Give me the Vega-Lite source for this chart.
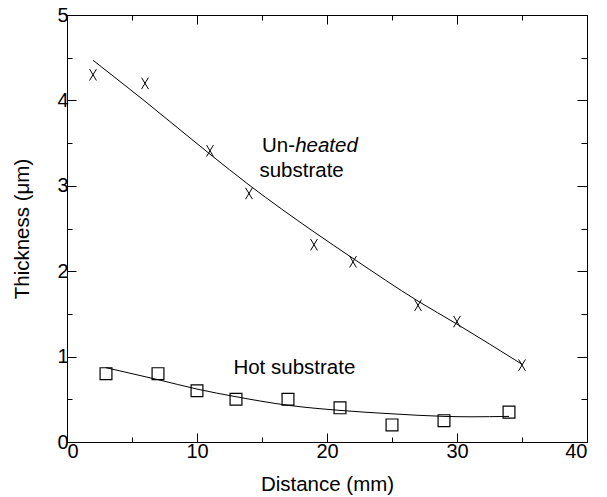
{
  "$schema": "https://vega.github.io/schema/vega-lite/v6.json",
  "width": 520,
  "height": 427,
  "autosize": "none",
  "padding": {"left": 67, "top": 15, "right": 20, "bottom": 55},
  "background": "white",
  "config": {
    "font": "Liberation Sans",
    "view": {"stroke": "black", "strokeWidth": 1},
    "axis": {
      "grid": false,
      "domainColor": "black",
      "tickColor": "black",
      "labelColor": "black",
      "titleColor": "black",
      "labelFontSize": 20,
      "titleFontSize": 20.5,
      "titleFontWeight": "normal",
      "labelPadding": 8
    }
  },
  "datasets": {
    "pts": [
      {"series": "Un-heated", "distance": 2, "thickness": 4.3},
      {"series": "Un-heated", "distance": 6, "thickness": 4.2},
      {"series": "Un-heated", "distance": 11, "thickness": 3.41},
      {"series": "Un-heated", "distance": 14, "thickness": 2.91},
      {"series": "Un-heated", "distance": 19, "thickness": 2.31},
      {"series": "Un-heated", "distance": 22, "thickness": 2.11},
      {"series": "Un-heated", "distance": 27, "thickness": 1.6},
      {"series": "Un-heated", "distance": 30, "thickness": 1.41},
      {"series": "Un-heated", "distance": 35, "thickness": 0.9},
      {"series": "Hot", "distance": 3, "thickness": 0.8},
      {"series": "Hot", "distance": 7, "thickness": 0.8},
      {"series": "Hot", "distance": 10, "thickness": 0.6},
      {"series": "Hot", "distance": 13, "thickness": 0.5},
      {"series": "Hot", "distance": 17, "thickness": 0.5},
      {"series": "Hot", "distance": 21, "thickness": 0.4},
      {"series": "Hot", "distance": 25, "thickness": 0.2},
      {"series": "Hot", "distance": 29, "thickness": 0.25},
      {"series": "Hot", "distance": 34, "thickness": 0.35}
    ],
    "fit": [
      {"series": "Un-heated", "distance": 2, "thickness": 4.47},
      {"series": "Un-heated", "distance": 6, "thickness": 3.99},
      {"series": "Un-heated", "distance": 11, "thickness": 3.37},
      {"series": "Un-heated", "distance": 14, "thickness": 3.01},
      {"series": "Un-heated", "distance": 19, "thickness": 2.46},
      {"series": "Un-heated", "distance": 22, "thickness": 2.15},
      {"series": "Un-heated", "distance": 27, "thickness": 1.65},
      {"series": "Un-heated", "distance": 30, "thickness": 1.38},
      {"series": "Un-heated", "distance": 35, "thickness": 0.91},
      {"series": "Hot", "distance": 3, "thickness": 0.87},
      {"series": "Hot", "distance": 7, "thickness": 0.73},
      {"series": "Hot", "distance": 10, "thickness": 0.62},
      {"series": "Hot", "distance": 13, "thickness": 0.53},
      {"series": "Hot", "distance": 17, "thickness": 0.43},
      {"series": "Hot", "distance": 21, "thickness": 0.37},
      {"series": "Hot", "distance": 25, "thickness": 0.33},
      {"series": "Hot", "distance": 29, "thickness": 0.3},
      {"series": "Hot", "distance": 31, "thickness": 0.295},
      {"series": "Hot", "distance": 34, "thickness": 0.3}
    ],
    "labels": [
      {"text": "Un-", "style": "normal", "distance": 15.0, "thickness": 3.47},
      {"text": "heated", "style": "italic", "distance": 17.55, "thickness": 3.47},
      {"text": "substrate", "style": "normal", "distance": 14.8, "thickness": 3.17},
      {"text": "Hot substrate", "style": "normal", "distance": 12.8, "thickness": 0.87}
    ]
  },
  "layer": [
    {
      "data": {"name": "fit"},
      "mark": {"type": "line", "color": "black", "strokeWidth": 1, "interpolate": "monotone"},
      "encoding": {
        "x": {"field": "distance", "type": "quantitative", "scale": {"domain": [0, 40], "nice": false},
          "axis": {"orient": "bottom", "title": "Distance (mm)", "values": [0, 5, 10, 15, 20, 25, 30, 35, 40],
            "labelExpr": "datum.value % 10 === 0 ? format(datum.value, 'd') : ''",
            "tickSize": {"condition": {"test": "datum.value % 10 !== 0", "value": -5}, "value": -9},
            "titlePadding": 13}},
        "y": {"field": "thickness", "type": "quantitative", "scale": {"domain": [0, 5], "nice": false},
          "axis": {"orient": "left", "title": "Thickness (μm)", "values": [0, 0.5, 1, 1.5, 2, 2.5, 3, 3.5, 4, 4.5, 5],
            "labelExpr": "datum.value % 1 === 0 ? format(datum.value, 'd') : ''",
            "tickSize": {"condition": {"test": "datum.value % 1 !== 0", "value": -5}, "value": -9},
            "titlePadding": 24}},
        "detail": {"field": "series"}
      }
    },
    {
      "data": {"name": "pts"},
      "transform": [{"filter": "datum.series === 'Un-heated'"}],
      "mark": {"type": "point", "shape": "M-0.6,-1L0.6,1M0.6,-1L-0.6,1", "filled": false, "stroke": "black", "strokeWidth": 1, "size": 130, "opacity": 1},
      "encoding": {
        "x": {"field": "distance", "type": "quantitative", "axis": null},
        "y": {"field": "thickness", "type": "quantitative", "axis": null}
      }
    },
    {
      "data": {"name": "pts"},
      "transform": [{"filter": "datum.series === 'Hot'"}],
      "mark": {"type": "point", "shape": "square", "filled": false, "stroke": "black", "strokeWidth": 1.2, "size": 140, "opacity": 1},
      "encoding": {
        "x": {"field": "distance", "type": "quantitative", "axis": null},
        "y": {"field": "thickness", "type": "quantitative", "axis": null}
      }
    },
    {
      "data": {"name": "labels"},
      "transform": [{"filter": "datum.style === 'normal'"}],
      "mark": {"type": "text", "align": "left", "baseline": "middle", "fontSize": 20.5, "color": "black"},
      "encoding": {
        "x": {"field": "distance", "type": "quantitative", "axis": null},
        "y": {"field": "thickness", "type": "quantitative", "axis": null},
        "text": {"field": "text"}
      }
    },
    {
      "data": {"name": "labels"},
      "transform": [{"filter": "datum.style === 'italic'"}],
      "mark": {"type": "text", "align": "left", "baseline": "middle", "fontSize": 20.5, "fontStyle": "italic", "color": "black"},
      "encoding": {
        "x": {"field": "distance", "type": "quantitative", "axis": null},
        "y": {"field": "thickness", "type": "quantitative", "axis": null},
        "text": {"field": "text"}
      }
    },
    {
      "data": {"name": "pts"},
      "mark": {"type": "point", "opacity": 0},
      "encoding": {
        "x": {"field": "distance", "type": "quantitative",
          "axis": {"orient": "top", "title": null, "labels": false, "values": [5, 10, 15, 20, 25, 30, 35],
            "tickSize": {"condition": {"test": "datum.value % 10 !== 0", "value": -5}, "value": -9}}},
        "y": {"field": "thickness", "type": "quantitative",
          "axis": {"orient": "right", "title": null, "labels": false, "values": [0.5, 1, 1.5, 2, 2.5, 3, 3.5, 4, 4.5],
            "tickSize": {"condition": {"test": "datum.value % 1 !== 0", "value": -6}, "value": -10}}}
      }
    }
  ],
  "resolve": {"axis": {"x": "independent", "y": "independent"}}
}
